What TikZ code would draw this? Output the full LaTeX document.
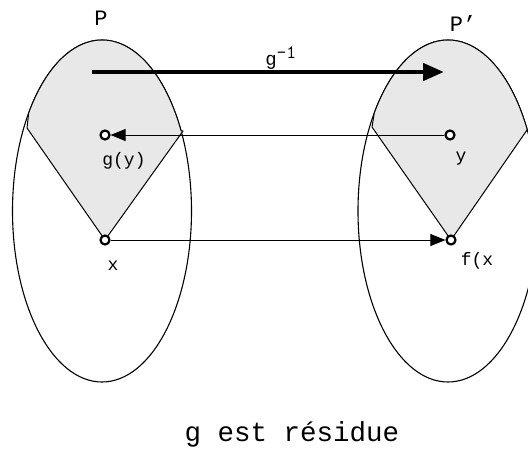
\documentclass[tikz,border=0pt]{standalone}
\usepackage{fontspec}
\setmainfont{Liberation Mono}
\usetikzlibrary{arrows.meta}
\tikzset{
  region/.style={fill=gray!18, draw=black, line width=1pt, line join=round},
  blob/.style={draw=black, line width=1.1pt},
  spot/.style={circle, draw=black, line width=2.2pt, fill=white,
    inner sep=0pt, minimum size=9pt},
  thin arrow/.style={-{Triangle[length=15pt, width=12pt]}, line width=0.8pt,
    shorten >=0pt},
  thick arrow/.style={-{Triangle[length=21pt, width=17pt]}, line width=4.5pt},
  lbl/.style={font=\fontsize{18}{18}\selectfont, inner sep=0pt}
}

\begin{document}
\begin{tikzpicture}[x=1pt, y=-1pt]
  \useasboundingbox (0,0) rectangle (528,448);
  % the two sets
  \draw[blob] (102,211) ellipse [x radius=89.5, y radius=171];
  \draw[blob] (448,211) ellipse [x radius=90, y radius=171];
  % shaded parts
  \draw[region] (27,128) -- (28.7,112.9) arc [start angle=-145, end angle=-28,
    x radius=89.5, y radius=171] -- (183,131) -- (105,240) -- cycle;
  \draw[region] (372,127) -- (374.3,112.9) arc [start angle=-145, end angle=-28,
    x radius=90, y radius=171] -- (527,130) -- (451,240) -- cycle;
  % points
  \node[spot] (gy) at (105,135) {};
  \node[spot] (y) at (450,135) {};
  \node[spot] (x) at (105,240) {};
  \node[spot] (fx) at (451,240) {};
  \coordinate (from) at (92,72);
  \coordinate (to) at (444,72);
  % maps
  \draw[thick arrow] (from) -- (to);
  \draw[thin arrow] (y) -- (gy);
  \draw[thin arrow] (x) -- (fx);
  % labels
  \node[font=\fontsize{22}{22}\selectfont] (P) at (101,18) {P};
  \node[font=\fontsize{22}{22}\selectfont] (Pp) at (463,24) {P'};
  \node[lbl, font=\fontsize{19}{19}\selectfont] (ginv) at (281,58) {g$^{\texttt{-1}}$};
  \node[lbl] (lgy) at (124,161) {g(y)};
  \node[lbl] (ly) at (461,159) {y};
  \node[lbl] (lx) at (113,266) {x};
  \node[lbl] (lfx) at (477,261) {f(x};
  \node[font=\fontsize{27.5}{27.5}\selectfont] (cap) at (292,434) {g est résidue};
\end{tikzpicture}
\end{document}
